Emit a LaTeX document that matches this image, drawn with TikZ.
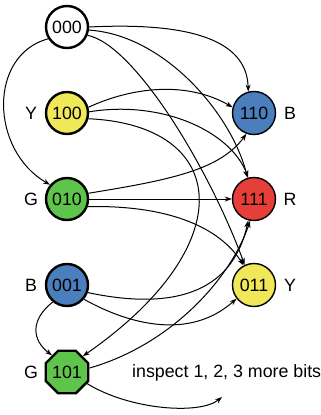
\documentclass[tikz,border=0pt]{standalone}
\usepackage{fontspec}
\setmainfont{Liberation Sans}
\usetikzlibrary{arrows.meta,shapes.geometric}

\definecolor{codeyellow}{RGB}{240,232,88}
\definecolor{codegreen}{RGB}{95,196,75}
\definecolor{codeblue}{RGB}{74,126,188}
\definecolor{codered}{RGB}{230,62,56}

\tikzset{
  every node/.style={font=\fontsize{17.8}{21}\selectfont},
  leftcode/.style={circle, draw=black, line width=2.4pt, minimum size=42pt, inner sep=0pt},
  rightcode/.style={circle, draw=black, line width=1.4pt, minimum size=43pt, inner sep=0pt},
  stopcode/.style={regular polygon, regular polygon sides=8, draw=black, line width=2.4pt,
                   minimum size=46pt, inner sep=0pt},
  colourtag/.style={inner sep=0pt},
  link/.style={line width=1pt, -{Stealth[length=7pt,width=5pt]}},
}

\begin{document}
\begin{tikzpicture}[x=1pt,y=-1pt]
\useasboundingbox (0,0) rectangle (321,415);

% codewords on the left
\node[leftcode, fill=white]      (n000) at (67,27)  {000};
\node[leftcode, fill=codeyellow] (n100) at (67,113) {100};
\node[leftcode, fill=codegreen]  (n010) at (67,199) {010};
\node[leftcode, fill=codeblue]   (n001) at (67,285) {001};
\node[stopcode, fill=codegreen]  (n101) at (67,372) {101};

% codewords on the right
\node[rightcode, fill=codeblue]   (n110) at (254,113) {110};
\node[rightcode, fill=codered]    (n111) at (254,199) {111};
\node[rightcode, fill=codeyellow] (n011) at (254,285) {011};

% colour tags
\node[colourtag] (tY1) at (31,113) {Y};
\node[colourtag] (tG1) at (31,199) {G};
\node[colourtag] (tB1) at (31,285) {B};
\node[colourtag] (tG2) at (31,372) {G};
\node[colourtag] (tB2) at (290,113) {B};
\node[colourtag] (tR)  at (290,199) {R};
\node[colourtag] (tY2) at (290,285) {Y};

\node[anchor=west, inner sep=0pt] (more) at (132,373) {inspect 1, 2, 3 more bits};
\coordinate (moretip) at (222,397);

% transitions out of 000
\draw[link] (n000.east) .. controls (190,22) and (247,40) .. (n110.105);
\draw[link] (n000.-8) .. controls (165,35) and (232,115) .. (n111.107);
\draw[link] (n000.-22) .. controls (135,45) and (210,170) .. (n011.115);
\draw[link] (n000.-148) .. controls (-12,55) and (-10,150) .. (n010.140);

% transitions out of 100
\draw[link] (n100.15) .. controls (130,88) and (185,80) .. (n110.165);
\draw[link] (n100.3) .. controls (160,100) and (230,130) .. (n111.105);
\draw[link] (n100.-15) .. controls (230,125) and (243,245) .. (n101.45);

% transitions out of 010
\draw[link] (n010.15) .. controls (170,180) and (220,170) .. (n110.-110);
\draw[link] (n010.east) -- (n111.west);
\draw[link] (n010.-20) .. controls (170,205) and (220,228) .. (n011.118);

% transitions out of 001
\draw[link] (n001.-20) .. controls (170,310) and (232,295) .. (n111.-105);
\draw[link] (n001.-40) .. controls (130,325) and (190,340) .. (n011.-142);
\draw[link] (n001.-130) .. controls (30,320) and (32,340) .. (n101.132);

% transitions out of 101
\draw[link] (n101.10) .. controls (170,345) and (230,280) .. (n111.-100);
\draw[link] (n101.-30) .. controls (130,410) and (200,415) .. (moretip);
\end{tikzpicture}
\end{document}
